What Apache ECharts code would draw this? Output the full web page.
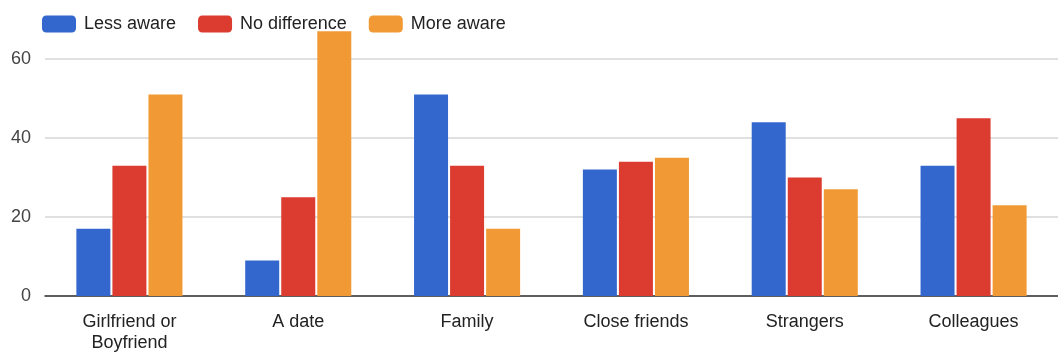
<!DOCTYPE html>
<html><head><meta charset="utf-8">
<script src="https://cdn.jsdelivr.net/npm/echarts@6/dist/echarts.min.js"></script>
<style>html,body{margin:0;padding:0;background:#fff}#c{width:1058px;height:354px}</style>
</head><body><div id="c"></div>
<script>
const categories = ["Girlfriend or\nBoyfriend", "A date", "Family", "Close friends", "Strangers", "Colleagues"];
const lessAware = [17, 9, 51, 32, 44, 33];
const noDifference = [33, 25, 33, 34, 30, 45];
const moreAware = [51, 67, 17, 35, 27, 23];
const seriesNames = ["Less aware", "No difference", "More aware"];
const colors = ["#3367cd", "#dc3b30", "#f19a35"];

const chart = echarts.init(document.getElementById('c'));
const font = "'Liberation Sans', Arial, sans-serif";
function mk(name, data, color) {
  return {
    name, type: 'bar', data, clip: false,
    barWidth: 34, barGap: '6%',
    itemStyle: { color },
    emphasis: { disabled: true }
  };
}
chart.setOption({
  animation: false,
  color: colors,
  textStyle: { fontFamily: font },
  legend: {
    left: 42, top: 15, padding: 0, itemWidth: 34, itemHeight: 17, itemGap: 22,
    icon: 'roundRect',
    textStyle: { fontFamily: font, fontSize: 18, color: '#222', padding: [0, 0, 0, 3] },
    data: seriesNames
  },
  grid: { left: 45, right: 0, top: 59, bottom: 57, containLabel: false },
  xAxis: {
    type: 'category', data: categories,
    axisLine: { lineStyle: { color: '#333', width: 1.5 } },
    axisTick: { show: false },
    axisLabel: { fontFamily: font, fontSize: 18, color: '#222', margin: 16, lineHeight: 21, interval: 0 }
  },
  yAxis: {
    type: 'value', min: 0, max: 60, interval: 20,
    axisLine: { show: false }, axisTick: { show: false },
    axisLabel: { fontFamily: font, fontSize: 18, color: '#444', margin: 14 },
    splitLine: { lineStyle: { color: '#d6d6d6', width: 1.5 } }
  },
  series: [
    mk(seriesNames[0], lessAware, colors[0]),
    mk(seriesNames[1], noDifference, colors[1]),
    mk(seriesNames[2], moreAware, colors[2])
  ]
});
</script></body></html>
